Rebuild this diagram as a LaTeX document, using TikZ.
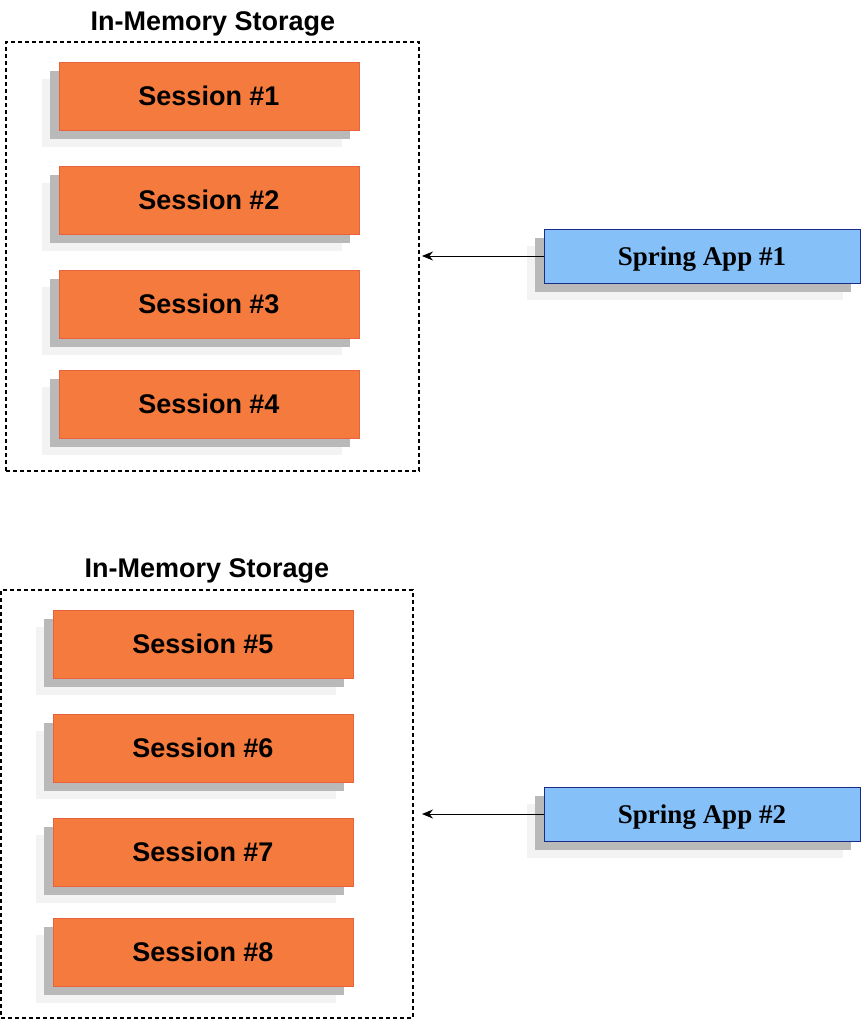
\documentclass[tikz,border=0pt]{standalone}
\usepackage{fontspec}
\setmainfont{Liberation Serif}
\setsansfont{Liberation Sans}
\usepackage{xcolor}
\usepackage{tikz}
\usetikzlibrary{arrows.meta, positioning, shadows}
\definecolor{sessionorange}{HTML}{F57A3D}
\definecolor{sessionborder}{HTML}{E8623C}
\definecolor{appblue}{HTML}{85C0F9}
\definecolor{appborder}{HTML}{1B2C86}
\definecolor{shadowdark}{HTML}{B9B9B9}
\definecolor{shadowlight}{HTML}{F3F3F3}

\begin{document}
\begin{tikzpicture}[x=1pt, y=-1pt, >={Stealth[length=11pt, width=9pt]},
        every node/.style={align=center, inner sep=0pt, outer sep=0pt},
        twoshadows/.style={
            general shadow={fill=shadowlight, shadow xshift=-17pt, shadow yshift=-17pt},
            general shadow={fill=shadowdark, shadow xshift=-9pt, shadow yshift=-9pt}},
        sessionbox/.style={twoshadows, fill=sessionorange, draw=sessionborder, line width=0.8pt,
            minimum width=300pt, minimum height=68pt, text depth=0pt,
            font=\sffamily\bfseries\fontsize{27}{32}\selectfont},
        appbox/.style={twoshadows, fill=appblue, draw=appborder, line width=0.8pt,
            minimum width=316pt, minimum height=54pt, text depth=0pt,
            font=\bfseries\fontsize{27}{32}\selectfont},
        storebox/.style={draw, dash pattern=on 4pt off 3pt, line width=1.1pt},
        storetitle/.style={anchor=base, font=\sffamily\bfseries\fontsize{27}{32}\selectfont}]
        \useasboundingbox (0,0) rectangle (862,1021);
        \def\deltay{36pt}
        % first storage
        \node[storebox, minimum width=413pt, minimum height=429pt] (store1) at (212.5,256.5) {};
        \node[storetitle] (title1) at (213,30) {In-Memory Storage};
        \node[sessionbox] (session1) at (209,96) {Session \#1};
        \node[sessionbox, below=\deltay of session1] (session2) {Session \#2};
        \node[sessionbox, below=\deltay of session2] (session3) {Session \#3};
        \node[sessionbox, below=32pt of session3] (session4) {Session \#4};
        % second storage
        \node[storebox, minimum width=412pt, minimum height=428pt] (store2) at (207,804) {};
        \node[storetitle] (title2) at (207,577) {In-Memory Storage};
        \node[sessionbox] (session5) at (203,644) {Session \#5};
        \node[sessionbox, below=\deltay of session5] (session6) {Session \#6};
        \node[sessionbox, below=\deltay of session6] (session7) {Session \#7};
        \node[sessionbox, below=32pt of session7] (session8) {Session \#8};
        % apps
        \node[appbox] (app1) at (702,256) {Spring App \#1};
        \node[appbox] (app2) at (702,814) {Spring App \#2};
        \draw[->, line width=0.9pt, shorten >=3pt] (app1.west) -- (app1.west -| store1.east);
        \draw[->, line width=0.9pt, shorten >=9pt] (app2.west) -- (app2.west -| store2.east);
    \end{tikzpicture}
\end{document}
